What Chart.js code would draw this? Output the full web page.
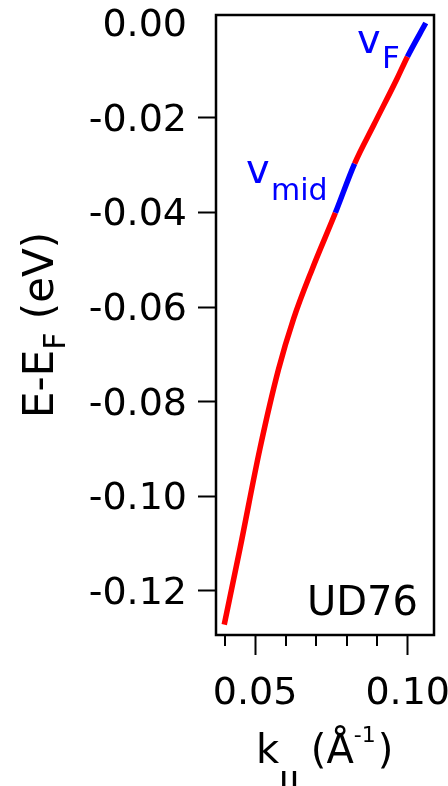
<!DOCTYPE html>
<html><head><meta charset="utf-8">
<script src="https://cdn.jsdelivr.net/npm/chart.js@4"></script>
<style>html,body{margin:0;padding:0;background:#fff}#wrap{width:448px;height:786px;position:relative}</style>
</head><body><div id="wrap"><canvas id="c"></canvas></div>
<script>
// ---- data ----
const kValues = [0.0399, 0.0451, 0.0516, 0.0577, 0.0626, 0.0687, 0.0763, 0.0826, 0.0889, 0.0966, 0.0999, 0.1059];
const eValues = [-0.1271, -0.1109, -0.0899, -0.0731, -0.0625, -0.0520, -0.0401, -0.0297, -0.0215, -0.0116, -0.0071, 0.0000];
const vMidRange = [0.0763, 0.0826];
const vFRange = [0.0999, 0.1059];
const xTicks = [0.04, 0.05, 0.06, 0.07, 0.08, 0.09, 0.10];
const xLabeled = [0.05, 0.10];
const yTicks = [0.00, -0.02, -0.04, -0.06, -0.08, -0.10, -0.12];
const xRange = [0.0372, 0.1086];
const yRange = [-0.1293, 0.0017];
const sampleLabel = 'UD76';

const FONT = '"DejaVu Sans", sans-serif';
Chart.defaults.font.family = FONT;
Chart.defaults.color = '#000';

const RED = '#ff0000', BLUE = '#0000ff';
const inRange = (a, b, r) => a >= r[0] - 1e-9 && b <= r[1] + 1e-9;
const near = (a, b) => Math.abs(a - b) < 1e-9;

const decor = {
  id: 'decor',
  afterDraw(chart) {
    const {ctx, chartArea: ca, scales} = chart;
    const xs = scales.x;
    ctx.save();
    // frame
    ctx.strokeStyle = '#000';
    ctx.lineWidth = 2.5;
    ctx.strokeRect(ca.left, ca.top, ca.right - ca.left, ca.bottom - ca.top);
    // minor x ticks
    ctx.lineWidth = 2;
    xTicks.forEach(v => {
      if (xLabeled.some(l => near(l, v))) return;
      const px = Math.round(xs.getPixelForValue(v));
      ctx.beginPath();
      ctx.moveTo(px, ca.bottom);
      ctx.lineTo(px, ca.bottom + 11);
      ctx.stroke();
    });
    ctx.textBaseline = 'alphabetic';
    ctx.textAlign = 'left';
    // v_F label
    ctx.fillStyle = BLUE;
    ctx.font = '40px ' + FONT;
    ctx.fillText('v', 357, 53);
    ctx.font = '31px ' + FONT;
    ctx.fillText('F', 382, 68);
    // v_mid label
    ctx.font = '40px ' + FONT;
    ctx.fillText('v', 246, 183);
    ctx.font = '30px ' + FONT;
    ctx.fillText('mid', 271, 200);
    // sample label
    ctx.fillStyle = '#000';
    ctx.font = '40px ' + FONT;
    ctx.textAlign = 'right';
    ctx.fillText(sampleLabel, 418, 615);
    // x title
    ctx.textAlign = 'left';
    ctx.font = '40px ' + FONT;
    let x = 256;
    ctx.fillText('k', x, 763);
    x += ctx.measureText('k').width;
    ctx.font = 'bold 30px ' + FONT;
    ctx.fillText('||', x - 1, 794);
    x += ctx.measureText('||').width;
    ctx.font = '40px ' + FONT;
    ctx.fillText(' (Å', x - 3, 763);
    x += ctx.measureText(' (Å').width - 3;
    ctx.font = '22px ' + FONT;
    ctx.fillText('-1', x, 742);
    x += ctx.measureText('-1').width;
    ctx.font = '40px ' + FONT;
    ctx.fillText(')', x + 2, 763);
    // y title
    ctx.translate(53, 418);
    ctx.rotate(-Math.PI / 2);
    ctx.font = '42px ' + FONT;
    let t = 0;
    ctx.fillText('E-E', t, 0);
    t += ctx.measureText('E-E').width;
    ctx.font = '30px ' + FONT;
    ctx.fillText('F', t, 12);
    t += ctx.measureText('F').width;
    ctx.font = '42px ' + FONT;
    ctx.fillText(' (eV)', t, 0);
    ctx.restore();
  }
};

new Chart(document.getElementById('c'), {
  type: 'scatter',
  data: {
    datasets: [{
      data: kValues.map((k, i) => ({x: k, y: eValues[i]})),
      showLine: true,
      borderColor: RED,
      borderWidth: 5.5,
      pointRadius: 0,
      cubicInterpolationMode: 'monotone',
      segment: {
        borderColor: c => {
          const a = c.p0.parsed.x, b = c.p1.parsed.x;
          return (inRange(a, b, vMidRange) || inRange(a, b, vFRange)) ? BLUE : RED;
        }
      }
    }]
  },
  options: {
    responsive: true,
    maintainAspectRatio: false,
    animation: false,
    events: [],
    layout: {padding: {left: 0, top: 15, right: 14, bottom: 0}},
    plugins: {legend: {display: false}, tooltip: {enabled: false}},
    scales: {
      x: {
        type: 'linear', min: xRange[0], max: xRange[1],
        afterBuildTicks: s => { s.ticks = xTicks.map(v => ({value: v})); },
        afterFit: s => { s.height = 151; s.paddingLeft = 0; s.paddingRight = 0; },
        border: {display: false},
        grid: {
          drawOnChartArea: false, tickLength: 20, tickWidth: 2,
          tickColor: c => xLabeled.some(l => near(l, c.tick.value)) ? '#000' : 'rgba(0,0,0,0)'
        },
        ticks: {
          font: {size: 38}, padding: 16, maxRotation: 0, autoSkip: false, color: '#000',
          callback: v => xLabeled.some(l => near(l, v)) ? v.toFixed(2) : ''
        }
      },
      y: {
        type: 'linear', min: yRange[0], max: yRange[1],
        afterBuildTicks: s => { s.ticks = yTicks.map(v => ({value: v})); },
        afterFit: s => { s.width = 216; s.paddingTop = 0; s.paddingBottom = 0; },
        border: {display: false},
        grid: {
          drawOnChartArea: false, tickLength: 18, tickWidth: 2,
          tickColor: c => near(c.tick.value, 0) ? 'rgba(0,0,0,0)' : '#000'
        },
        ticks: {
          font: {size: 38}, padding: 11, labelOffset: 3, autoSkip: false, color: '#000',
          callback: v => v.toFixed(2)
        }
      }
    }
  },
  plugins: [decor]
});
</script></body></html>
